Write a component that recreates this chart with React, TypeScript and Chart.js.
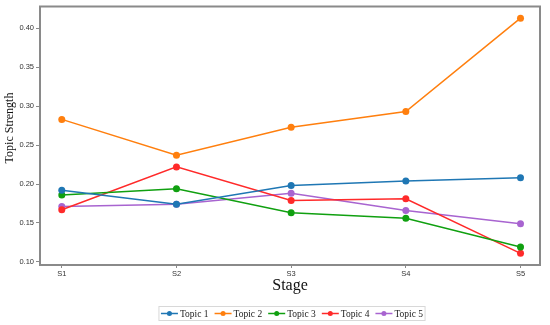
import React, { useEffect, useRef } from "react";
import { Chart, registerables } from "chart.js";

Chart.register(...registerables);

const stages = ["S1", "S2", "S3", "S4", "S5"];
const stagePositions = [1, 2, 3, 4, 5];
const topicNames = ["Topic 1", "Topic 2", "Topic 3", "Topic 4", "Topic 5"];
const topic1 = [0.192, 0.174, 0.198, 0.204, 0.208];
const topic2 = [0.283, 0.237, 0.273, 0.293, 0.413];
const topic3 = [0.186, 0.194, 0.163, 0.156, 0.119];
const topic4 = [0.167, 0.222, 0.179, 0.181, 0.111];
const topic5 = [0.171, 0.174, 0.188, 0.166, 0.149];
const topicColors = ["#1f77b4", "#ff7f0e", "#10a010", "#ff2a2a", "#a864d0"];
const yTicks = [0.1, 0.15, 0.2, 0.25, 0.3, 0.35, 0.4];
const xTitle = "Stage";
const yTitle = "Topic Strength";

const frameAndLegend = {
  id: "frameAndLegend",
  afterDraw(chart: any) {
    const { ctx, chartArea } = chart;
    ctx.save();
    ctx.strokeStyle = "#8a8a8a";
    ctx.lineWidth = 2;
    ctx.strokeRect(chartArea.left, chartArea.top, chartArea.right - chartArea.left, chartArea.bottom - chartArea.top);

    // axis titles
    ctx.fillStyle = "#111";
    ctx.textAlign = "center";
    ctx.textBaseline = "middle";
    ctx.font = "16px 'Liberation Serif'";
    ctx.fillText(xTitle, (chartArea.left + chartArea.right) / 2, 286);
    ctx.save();
    ctx.translate(10, 128);
    ctx.rotate(-Math.PI / 2);
    ctx.font = "12px 'Liberation Serif'";
    ctx.fillText(yTitle, 0, 0);
    ctx.restore();

    // legend
    ctx.textAlign = "left";
    ctx.font = "9.5px 'Liberation Serif'";
    const lineW = 17;
    const gap = 2;
    const itemGap = 6;
    const widths = topicNames.map((n) => ctx.measureText(n).width);
    const total = widths.reduce((a, w) => a + lineW + gap + w, 0) + itemGap * (topicNames.length - 1);
    const boxPad = 2;
    const cx = 292;
    let x = cx - total / 2;
    const y = 313.5;
    ctx.strokeStyle = "#d8d8d8";
    ctx.lineWidth = 1;
    ctx.strokeRect(x - boxPad, y - 7, total + boxPad * 2, 14);
    topicNames.forEach((n, i) => {
      ctx.strokeStyle = topicColors[i];
      ctx.fillStyle = topicColors[i];
      ctx.lineWidth = 1.5;
      ctx.beginPath();
      ctx.moveTo(x, y);
      ctx.lineTo(x + lineW, y);
      ctx.stroke();
      ctx.beginPath();
      ctx.arc(x + lineW / 2, y, 2.5, 0, Math.PI * 2);
      ctx.fill();
      ctx.fillStyle = "#222";
      ctx.fillText(n, x + lineW + gap, y + 0.5);
      x += lineW + gap + widths[i] + itemGap;
    });
    ctx.restore();
  },
};

export default function App() {
  const ref = useRef<HTMLCanvasElement>(null);
  useEffect(() => {
    const series = [topic1, topic2, topic3, topic4, topic5];
    const chart = new Chart(ref.current as HTMLCanvasElement, {
      type: "line",
      data: {
        datasets: series.map((vals, i) => ({
          label: topicNames[i],
          data: vals.map((v, j) => ({ x: stagePositions[j], y: v })),
          borderColor: topicColors[i],
          backgroundColor: topicColors[i],
          borderWidth: 1.5,
          pointRadius: 3.5,
          pointBorderWidth: 0,
          tension: 0,
        })),
      },
      options: {
        responsive: false,
        animation: false,
        layout: { padding: { left: 0, right: 10, top: 5, bottom: 30 } },
        plugins: { legend: { display: false }, tooltip: { enabled: false } },
        scales: {
          x: {
            type: "linear",
            min: 0.81,
            max: 5.17,
            afterBuildTicks: (s: any) => {
              s.ticks = stagePositions.map((v) => ({ value: v }));
            },
            afterFit: (s: any) => {
              s.height = 30;
            },
            ticks: {
              autoSkip: false,
              maxRotation: 0,
              padding: 1,
              color: "#333",
              font: { size: 7.5, family: "'Liberation Sans'" },
              callback: (v: any) => stages[stagePositions.indexOf(Number(v))] ?? "",
            },
            grid: { drawOnChartArea: false, drawTicks: true, tickLength: 3, color: "#8a8a8a" },
            border: { display: false },
          },
          y: {
            min: 0.096,
            max: 0.428,
            afterBuildTicks: (s: any) => {
              s.ticks = yTicks.map((v) => ({ value: v }));
            },
            afterFit: (s: any) => {
              s.width = 40;
            },
            ticks: {
              padding: 2,
              color: "#333",
              font: { size: 7.5, family: "'Liberation Sans'" },
              callback: (v: any) => Number(v).toFixed(2),
            },
            grid: { drawOnChartArea: false, drawTicks: true, tickLength: 4, color: "#8a8a8a" },
            border: { display: false },
          },
        },
      },
      plugins: [frameAndLegend],
    });
    return () => chart.destroy();
  }, []);
  return (
    <div style={{ position: "absolute", left: 0, top: 0, width: 550, height: 325, background: "#fff" }}>
      <canvas ref={ref} width={550} height={325} />
    </div>
  );
}
